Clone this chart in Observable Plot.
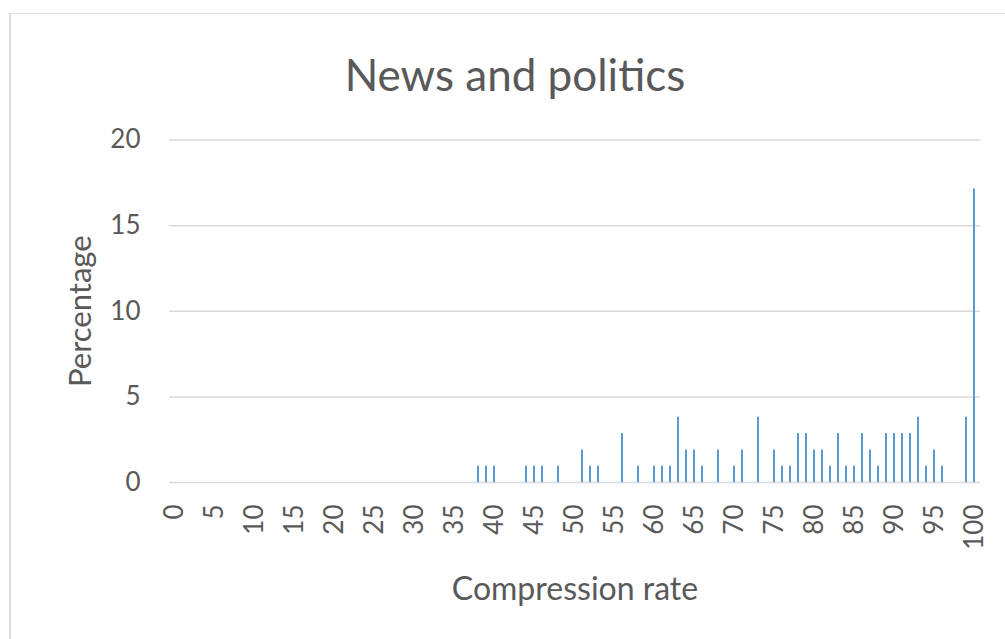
<!DOCTYPE html>
<html>
<head>
<meta charset="utf-8">
<script src="https://cdn.jsdelivr.net/npm/d3@7"></script>
<script src="https://cdn.jsdelivr.net/npm/@observablehq/plot@0.6"></script>
<style>
  html, body { margin: 0; padding: 0; background: #fff; }
  #wrap { position: relative; width: 1005px; height: 639px; overflow: hidden; }
  #border { position: absolute; left: 9px; top: 13px; right: -5px; bottom: -5px;
            border-left: 2.5px solid #dcdcdc; border-top: 1px solid #e0e0e0; pointer-events: none; }
  #chart { position: absolute; left: 0; top: 0; }
</style>
</head>
<body>
<div id="wrap"><div id="chart"></div><div id="border"></div></div>
<script>
// Chart data
const title = "News and politics";
const xLabel = "Compression rate";
const yLabel = "Percentage";
const categories = d3.range(0, 101);              // compression rate categories 0..100
const xTickLabels = [0,5,10,15,20,25,30,35,40,45,50,55,60,65,70,75,80,85,90,95,100];
const yTicks = [0, 5, 10, 15, 20];
const rates = [38,39,40,44,45,46,48,51,52,53,56,58,60,61,62,63,64,65,66,68,70,71,73,75,76,77,78,79,80,81,82,83,84,85,86,87,88,89,90,91,92,93,94,95,96,99,100];
const percentages = [0.95,0.95,0.95,0.95,0.95,0.95,0.95,1.9,0.95,0.95,2.86,0.95,0.95,0.95,0.95,3.81,1.9,1.9,0.95,1.9,0.95,1.9,3.81,1.9,0.95,0.95,2.86,2.86,1.9,1.9,0.95,2.86,0.95,0.95,2.86,1.9,0.95,2.86,2.86,2.86,2.86,3.81,0.95,1.9,0.95,3.81,17.14];

const data = rates.map((r, i) => ({rate: r, pct: percentages[i]}));
const textColor = "#595959";
const font = "Lato, 'Open Sans', sans-serif";

const chart = Plot.plot({
  width: 1005,
  height: 639,
  marginLeft: 169,
  marginRight: 25,
  marginTop: 139.5,
  marginBottom: 157,
  style: {fontFamily: font, color: textColor, background: "transparent"},
  x: {type: "band", domain: categories, paddingInner: 0.7, paddingOuter: 0.35, label: null},
  y: {domain: [0, 20], label: null},
  marks: [
    Plot.ruleY(yTicks, {stroke: "#d9d9d9", strokeWidth: 1.5}),
    Plot.barY(data, {x: "rate", y: "pct", fill: "#5B9BD5"}),
    Plot.axisX({ticks: xTickLabels, tickRotate: -90, tickSize: 0, tickPadding: 22, fontSize: 26, fill: textColor, label: null}),
    Plot.axisY({ticks: yTicks, tickSize: 0, tickPadding: 29, fontSize: 26, fill: textColor, label: null}),
    Plot.text([title], {frameAnchor: "top", dx: -60, dy: -80, fontSize: 44, fill: textColor}),
    Plot.text([yLabel], {frameAnchor: "left", textAnchor: "middle", dx: -88, rotate: -90, fontSize: 31, fill: textColor}),
    Plot.text([xLabel], {frameAnchor: "bottom", dy: 117, fontSize: 32, fill: textColor})
  ]
});
document.getElementById("chart").appendChild(chart);
</script>
</body>
</html>
